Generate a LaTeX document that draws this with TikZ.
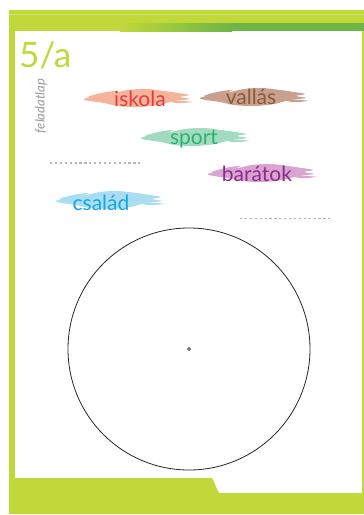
\documentclass[tikz,border=0pt]{standalone}
\usepackage{fontspec}
\setmainfont{Lato}
\definecolor{lime}{HTML}{C0D83A}
\definecolor{limelight}{HTML}{D4E470}
\definecolor{darkgreen}{HTML}{6DB545}
\definecolor{txtred}{HTML}{E63B3B}
\definecolor{brred}{HTML}{F6B39B}
\definecolor{txtbrown}{HTML}{8A5A35}
\definecolor{brbrown}{HTML}{C9A08F}
\definecolor{txtgreen}{HTML}{27B36F}
\definecolor{brgreen}{HTML}{A3DBC0}
\definecolor{txtpurple}{HTML}{8E2A8E}
\definecolor{brpurple}{HTML}{D9A5D0}
\definecolor{txtblue}{HTML}{16A6E0}
\definecolor{brblue}{HTML}{A9DDF2}
\definecolor{dotgray}{HTML}{B5B5B5}
\begin{document}
\begin{tikzpicture}[x=1pt,y=-1pt,
  word/.style={anchor=base,font=\fontsize{21}{21}\selectfont,inner sep=0pt},
  dotline/.style={dotgray,line width=1.6pt,dash pattern=on 2.2pt off 2.7pt},
  pics/brush/.style={code={
    \fill[#1] plot[smooth cycle,tension=0.6] coordinates{(-52,1) (-38,-3) (-22,-5) (-8,-8) (10,-9) (28,-7) (42,-5) (53,-3) (44,-1) (54,1) (38,3) (22,7) (2,9) (-18,8) (-32,5) (-46,3)};
    \fill[#1] plot[smooth cycle,tension=0.6] coordinates{(-48,-1) (-35,-5) (-20,-7) (-30,-3)};
    \fill[#1] plot[smooth cycle,tension=0.6] coordinates{(30,2) (48,3) (56,4) (40,5)};
  }}]
\useasboundingbox (0,0) rectangle (364,515);
\fill[white] (0,0) rectangle (364,515);
% frame
\fill[lime] (9,10) rectangle (364,31);
\fill[limelight] (9,13.5) rectangle (364,14.5);
\shade[left color=lime,right color=darkgreen] (120,23) rectangle (232,31);
\fill[darkgreen] (231.5,23) rectangle (364,31);
\fill[lime] (9,31) rectangle (15,514);
\fill[lime] (362,31) rectangle (364,514);
\fill[lime] (15,478) -- (212,478) -- (219,493) -- (362,493) -- (362,514) -- (15,514) -- cycle;
% title
\node[anchor=base west,inner sep=0pt,text=lime,font=\fontsize{35}{35}\selectfont] (title) at (19,67) {5/a};
\node[rotate=90,inner sep=0pt,text=gray!80,font=\itshape\fontsize{13}{13}\selectfont] (sub) at (41,106) {feladatlap};
% brushes
\pic at (136,98) {brush=brred};
\pic at (252,97) {brush=brbrown};
\pic at (193,137) {brush=brgreen};
\pic at (260,173) {brush=brpurple};
\pic at (108,200) {brush=brblue};
% words
\node[word,text=txtred] (iskola) at (140,106) {iskola};
\node[word,text=txtbrown] (vallas) at (251,104) {vallás};
\node[word,text=txtgreen] (sport) at (194,144) {sport};
\node[word,text=txtpurple] (baratok) at (257,181) {barátok};
\node[word,text=txtblue] (csalad) at (101,210) {család};
% dotted lines
\coordinate (d1a) at (50,163); \coordinate (d1b) at (142,163);
\coordinate (d2a) at (240,218.5); \coordinate (d2b) at (333,218.5);
\draw[dotline] (d1a) -- (d1b);
\draw[dotline] (d2a) -- (d2b);
% circle
\node[circle,draw=black!85,line width=0.8pt,minimum size=242pt,inner sep=0pt] (big) at (189,349) {};
\node[circle,draw=black,line width=0.6pt,minimum size=3pt,inner sep=0pt] (dot) at (big.center) {};
\end{tikzpicture}
\end{document}
